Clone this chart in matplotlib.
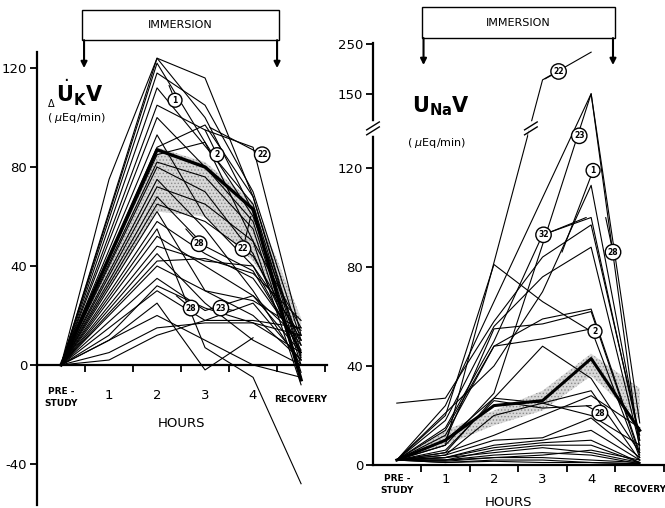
import matplotlib.pyplot as plt
import matplotlib.patches as mpatches
import numpy as np

plt.rcParams['axes.unicode_minus'] = False
plt.rcParams['hatch.linewidth'] = 0.6

nan = np.nan
hours = np.arange(6)
hour_labels = ['PRE -\nSTUDY', '1', '2', '3', '4', 'RECOVERY']

# potassium excretion, one row per subject: pre, 1h, 2h, 3h, 4h, recovery
k_lines = [
    [0, nan, 124, 116, 68, 5],
    [0, 75, 124, 100, 62, 0],
    [0, nan, 122, 90, 50, -8],
    [0, nan, 118, 105, 70, 10],
    [0, nan, 112, nan, 65, 2],
    [0, nan, 105, 95, 88, 12],
    [0, nan, 100, 80, 58, -3],
    [0, nan, 93, 60, 40, 5],
    [0, nan, 88, 97, 68, 3],
    [0, nan, 85, 90, 60, 8],
    [0, nan, 82, 76, 55, -5],
    [0, nan, 80, 70, 45, 4],
    [0, nan, 75, 55, 30, 0],
    [0, nan, 72, 65, 50, 15],
    [0, nan, 68, 48, 38, 6],
    [0, nan, 65, 58, 44, 10],
    [0, nan, 62, 30, 20, 2],
    [0, nan, 58, 45, 35, 8],
    [0, nan, 55, 7, -5, -48],
    [0, nan, 52, 40, 28, 5],
    [0, nan, 48, 42, 40, 12],
    [0, nan, 45, 25, 10, 0],
    [0, nan, 42, 43, 37, 18],
    [0, 20, 40, 30, 26, 14],
    [0, nan, 35, 22, 28, 10],
    [0, 12, 32, 23, 17, 5],
    [0, nan, 30, 18, 25, 2],
    [0, 10, 25, -2, 11, nan],
    [0, 5, 15, 17, 17, 12],
    [0, 2, 12, 18, 18, 15],
    [0, nan, 20, 10, 0, -5],
]
k_mean = [0, nan, 87, 80, 63, -6]
k_band_lo = [0, nan, 62, 60, 42, 13]
k_band_hi = [0, nan, 88, 82, 66, 19]
# subject tags: label, circle x, circle y, line x, line y
k_tags = [
    ('1', 2.375, 107, 2.25, 113),
    ('2', 3.25, 85, 3.0, 95),
    ('22', 4.19, 85, 3.1, 96),
    ('28', 2.875, 49, 2.6, 55),
    ('22', 3.79, 47, 3.95, 60),
    ('28', 2.71, 23, 2.4, 28),
    ('23', 3.33, 23, 3.6, 22),
]

# sodium excretion, same layout (values above 150 on a compressed scale)
na_lines = [
    [2, 8, nan, 178, 234, nan],
    [2, 8, 29, 89, 150, 6],
    [2, 24, 66, nan, 150, 17],
    [2, nan, 40, 70, 113, 10],
    [2, 15, 50, 93, 100, 10],
    [2, 20, 81, 66, 54, nan],
    [25, 27, 58, 84, 97, 12],
    [2, 18, 56, 76, 88, 8],
    [2, 12, 48, 59, 63, 5],
    [2, 10, 55, 57, 62, 4],
    [2, 14, 48, 51, 55, 3],
    [2, 10, 27, 48, 35, 5],
    [2, 6, 26, 23, 24, nan],
    [2, 5, 27, 25, 20, 8],
    [2, 4, 20, 25, 30, 2],
    [2, 5, 12, 20, 28, 15],
    [2, 4, 10, 11, 19, 3],
    [2, 3, 8, 10, 14, 2],
    [2, 3, 7, 9, 10, 1],
    [2, 2, 6, 8, 8, 1],
    [2, 3, 5, 7, 5, 1],
    [2, 2, 4, 5, 4, 0.5],
    [2, 1.5, 3, 3, 2, 1],
    [2, 1, 2, 2, 1, 0.5],
    [2, 2, 3, 4, 6, 2],
    [2, 1, 1.5, 1, 1, 0.5],
]
na_mean = [2, 10, 24, 26, 43, 14]
na_band_lo = [2, 8, 16, 22, 36, 18]
na_band_hi = [2, 14, 22, 30, 45, 31]
na_tags = [
    ('22', 3.33, 159, 3.05, 156),
    ('23', 3.755, 133, 3.755, 133),
    ('1', 4.04, 119, 3.4, 86),
    ('32', 3.02, 93, 3.9, 100),
    ('28', 4.45, 86, 4.3, 100),
    ('2', 4.08, 54, 4.0, 54),
    ('28', 4.18, 21, 3.9, 24),
]
na_ticks = [0, 40, 80, 120, 150, 250]


def squash(v):
    v = np.asarray(v, float)
    return np.where(v > 150, 150 + (v - 150) / 5, v)


def draw_lines(ax, rows, f=lambda v: np.asarray(v, float)):
    for r in rows:
        y = f(r)
        m = ~np.isnan(y)
        ax.plot(hours[m], y[m], color='black', lw=0.8)


def band(ax, lo, hi, f=lambda v: np.asarray(v, float)):
    lo, hi = f(lo), f(hi)
    m = ~np.isnan(lo)
    ax.fill_between(hours[m], lo[m], hi[m], facecolor='#d8d8d8',
                    edgecolor='#8a8a8a', hatch='.....', lw=0, zorder=1)


def tag(ax, t, x, y, lx, ly):
    ax.annotate(t, xy=(lx, ly), xytext=(x, y), fontsize=5.5, fontweight='bold',
                ha='center', va='center', annotation_clip=False,
                bbox=dict(boxstyle='circle,pad=0.32', fc='white', ec='black', lw=1.0),
                arrowprops=dict(arrowstyle='-', lw=0.8, color='black',
                                shrinkA=0, shrinkB=0), zorder=5)


def immersion(ax, x0, x1, ytop, ybot, ytip):
    ax.add_patch(mpatches.Rectangle((x0, ybot), x1 - x0, ytop - ybot, fill=False,
                                    ec='black', lw=1.0, clip_on=False))
    ax.text((x0 + x1) / 2, (ytop + ybot) / 2, 'IMMERSION', ha='center',
            va='center', fontsize=8)
    for x in (x0 + 0.04, x1 - 0.04):
        ax.annotate('', xy=(x, ytip), xytext=(x, ybot), annotation_clip=False,
                    arrowprops=dict(arrowstyle='-|>', lw=1.5, color='black',
                                    mutation_scale=9, shrinkA=0, shrinkB=0))


def style(ax):
    for s in ('top', 'right'):
        ax.spines[s].set_visible(False)
    for s in ('left', 'bottom'):
        ax.spines[s].set_linewidth(1.6)
    ax.set_xticks(hours + 0.5)
    ax.set_xticklabels([])
    ax.tick_params(axis='both', direction='out', length=5, width=1.3,
                   labelsize=9.5, pad=2)


fig = plt.figure(figsize=(6.65, 5.08), dpi=100)

# ---- left: potassium
ax1 = fig.add_axes([37 / 665, 3 / 508, 290 / 665, 453 / 508])
style(ax1)
ax1.spines['bottom'].set_position(('data', 0))
ax1.set_xlim(-0.5, 5.54)
ax1.set_ylim(-56.6, 126.5)
ax1.set_yticks([-40, 0, 40, 80, 120])
band(ax1, k_band_lo, k_band_hi)
draw_lines(ax1, k_lines)
m = ~np.isnan(np.array(k_mean, float))
ax1.plot(hours[m], np.array(k_mean, float)[m], color='black', lw=2.4)
for t in k_tags:
    tag(ax1, *t)
immersion(ax1, 0.44, 4.54, 143.4, 131.3, 120)
ax1.text(-0.21, 106, r'$\Delta$', fontsize=7, ha='center', va='center')
ax1.text(-0.11, 110, r'$\dot{\mathbf{U}}_{\mathbf{K}}\mathbf{V}$', fontsize=15,
         ha='left', va='center')
ax1.text(0.33, 100, r'( $\mu$Eq/min)', fontsize=8, ha='center', va='center')
for i, lab in enumerate(hour_labels):
    if i == 0:
        ax1.text(i, -13, lab, fontsize=6.5, ha='center', va='center',
                 fontweight='bold', linespacing=1.4)
    elif i == 5:
        ax1.text(i, -14, lab, fontsize=6.5, ha='center', va='center',
                 fontweight='bold')
    else:
        ax1.text(i, -12.5, lab, fontsize=9.5, ha='center', va='center')
ax1.text(2.5, -23.5, 'HOURS', fontsize=9.5, ha='center', va='center')

# ---- right: sodium
ax2 = fig.add_axes([373 / 665, 43 / 508, 291 / 665, 422 / 508])
style(ax2)
ax2.set_xlim(-0.49, 5.5)
ax2.set_ylim(0, 170.5)
ax2.set_yticks(squash(na_ticks))
ax2.set_yticklabels([str(v) for v in na_ticks])
band(ax2, na_band_lo, na_band_hi, squash)
draw_lines(ax2, na_lines, squash)
ax2.plot(hours, squash(na_mean), color='black', lw=2.2)
for t in na_tags:
    tag(ax2, *t)
immersion(ax2, 0.51, 4.49, 185, 172.5, 161.6)


def breakmark(ax, x, y):
    ax.plot([x, x], [y - 1.8, y + 1.8], color='white', lw=4, clip_on=False, zorder=6)
    for dy in (-1.0, 1.0):
        ax.plot([x - 0.13, x + 0.13], [y + dy - 1.6, y + dy + 1.6], color='black',
                lw=1.0, clip_on=False, zorder=7)


breakmark(ax2, -0.49, 136)
breakmark(ax2, 2.76, 136)
ax2.text(0.31, 145, r'$\mathbf{U}_{\mathbf{Na}}\mathbf{V}$', fontsize=15,
         ha='left', va='center')
ax2.text(0.82, 130, r'( $\mu$Eq/min)', fontsize=8, ha='center', va='center')
for i, lab in enumerate(hour_labels):
    if i == 0:
        ax2.text(i, -8, lab, fontsize=6.5, ha='center', va='center',
                 fontweight='bold', linespacing=1.4)
    elif i == 5:
        ax2.text(i, -10, lab, fontsize=6.5, ha='center', va='center',
                 fontweight='bold')
    else:
        ax2.text(i, -5.7, lab, fontsize=9.5, ha='center', va='center')
ax2.text(2.3, -15, 'HOURS', fontsize=9.5, ha='center', va='center')

fig.savefig('out.png', dpi=100)
